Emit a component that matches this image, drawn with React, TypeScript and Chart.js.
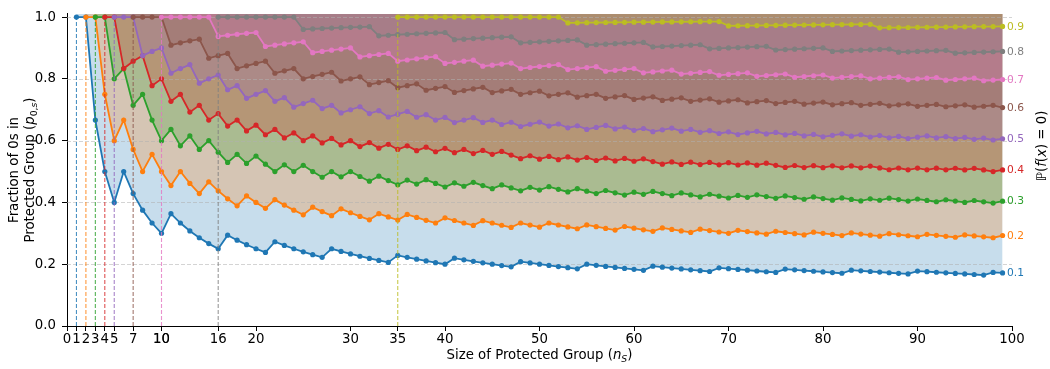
import { useEffect, useRef } from "react";
import { Chart, registerables } from "chart.js";

Chart.register(...registerables);

// P(f(x) = 0) levels, one curve per level
const levels = ["0.1", "0.2", "0.3", "0.4", "0.5", "0.6", "0.7", "0.8", "0.9"];
const levelColors = ["#1f77b4", "#ff7f0e", "#2ca02c", "#d62728", "#9467bd", "#8c564b", "#e377c2", "#7f7f7f", "#bcbd22"];

// smallest protected-group size shown for each level (also marked by a dashed line)
const firstSize = [1, 2, 3, 4, 5, 7, 10, 16, 35];

// number of 0s required in the protected group, for sizes firstSize..99
const zeros01 = [
  1, 2, 2, 2, 2, 3, 3, 3, 3, 3,
  4, 4, 4, 4, 4, 4, 5, 5, 5, 5,
  5, 6, 6, 6, 6, 6, 6, 7, 7, 7,
  7, 7, 7, 7, 8, 8, 8, 8, 8, 8,
  9, 9, 9, 9, 9, 9, 9, 10, 10, 10,
  10, 10, 10, 10, 11, 11, 11, 11, 11, 11,
  11, 12, 12, 12, 12, 12, 12, 12, 13, 13,
  13, 13, 13, 13, 13, 14, 14, 14, 14, 14,
  14, 14, 15, 15, 15, 15, 15, 15, 15, 16,
  16, 16, 16, 16, 16, 16, 16, 17, 17,
];
const zeros02 = [
  2, 3, 3, 3, 4, 4, 4, 5, 5,
  5, 6, 6, 6, 7, 7, 7, 7, 8, 8,
  8, 9, 9, 9, 9, 10, 10, 10, 11, 11,
  11, 11, 12, 12, 12, 13, 13, 13, 13, 14,
  14, 14, 14, 15, 15, 15, 15, 16, 16, 16,
  17, 17, 17, 17, 18, 18, 18, 18, 19, 19,
  19, 19, 20, 20, 20, 20, 21, 21, 21, 21,
  22, 22, 22, 22, 23, 23, 23, 23, 24, 24,
  24, 24, 25, 25, 25, 25, 26, 26, 26, 26,
  27, 27, 27, 27, 28, 28, 28, 28, 29,
];
const zeros03 = [
  3, 4, 4, 5, 5, 6, 6, 6,
  7, 7, 8, 8, 9, 9, 9, 10, 10, 11,
  11, 11, 12, 12, 13, 13, 13, 14, 14, 15,
  15, 15, 16, 16, 16, 17, 17, 18, 18, 18,
  19, 19, 20, 20, 20, 21, 21, 21, 22, 22,
  23, 23, 23, 24, 24, 24, 25, 25, 25, 26,
  26, 27, 27, 27, 28, 28, 28, 29, 29, 29,
  30, 30, 31, 31, 31, 32, 32, 32, 33, 33,
  33, 34, 34, 34, 35, 35, 36, 36, 36, 37,
  37, 37, 38, 38, 38, 39, 39, 39, 40,
];
const zeros04 = [
  4, 5, 5, 6, 7, 7, 8,
  8, 9, 9, 10, 10, 11, 11, 12, 12, 13,
  13, 14, 14, 15, 15, 16, 16, 17, 17, 18,
  18, 19, 19, 20, 20, 21, 21, 22, 22, 23,
  23, 24, 24, 25, 25, 26, 26, 26, 27, 27,
  28, 28, 29, 29, 30, 30, 31, 31, 32, 32,
  33, 33, 33, 34, 34, 35, 35, 36, 36, 37,
  37, 38, 38, 39, 39, 39, 40, 40, 41, 41,
  42, 42, 43, 43, 44, 44, 44, 45, 45, 46,
  46, 47, 47, 48, 48, 49, 49, 49, 50,
];
const zeros05 = [
  5, 6, 7, 7, 8, 9,
  9, 10, 11, 11, 12, 13, 13, 14, 14, 15,
  16, 16, 17, 17, 18, 19, 19, 20, 20, 21,
  22, 22, 23, 23, 24, 25, 25, 26, 26, 27,
  27, 28, 29, 29, 30, 30, 31, 31, 32, 33,
  33, 34, 34, 35, 35, 36, 37, 37, 38, 38,
  39, 39, 40, 41, 41, 42, 42, 43, 43, 44,
  44, 45, 46, 46, 47, 47, 48, 48, 49, 49,
  50, 51, 51, 52, 52, 53, 53, 54, 54, 55,
  56, 56, 57, 57, 58, 58, 59, 59, 60,
];
const zeros06 = [
  7, 8, 9, 10,
  10, 11, 12, 13, 13, 14, 15, 15, 16, 17,
  18, 18, 19, 20, 20, 21, 22, 23, 23, 24,
  25, 25, 26, 27, 27, 28, 29, 29, 30, 31,
  31, 32, 33, 34, 34, 35, 36, 36, 37, 38,
  38, 39, 40, 40, 41, 42, 42, 43, 44, 44,
  45, 46, 46, 47, 48, 48, 49, 50, 50, 51,
  52, 52, 53, 54, 54, 55, 56, 56, 57, 58,
  58, 59, 60, 60, 61, 62, 62, 63, 64, 64,
  65, 66, 66, 67, 68, 68, 69, 70, 70,
];
const zeros07 = [
  10,
  11, 12, 13, 14, 15, 15, 16, 17, 18, 19,
  19, 20, 21, 22, 23, 23, 24, 25, 26, 27,
  27, 28, 29, 30, 30, 31, 32, 33, 34, 34,
  35, 36, 37, 37, 38, 39, 40, 40, 41, 42,
  43, 44, 44, 45, 46, 47, 47, 48, 49, 50,
  50, 51, 52, 53, 53, 54, 55, 56, 56, 57,
  58, 59, 59, 60, 61, 62, 62, 63, 64, 65,
  65, 66, 67, 68, 68, 69, 70, 71, 71, 72,
  73, 74, 74, 75, 76, 77, 77, 78, 79,
];
const zeros08 = [
  16, 17, 18, 19, 20,
  21, 22, 23, 24, 24, 25, 26, 27, 28, 29,
  30, 31, 31, 32, 33, 34, 35, 36, 37, 38,
  38, 39, 40, 41, 42, 43, 44, 44, 45, 46,
  47, 48, 49, 50, 50, 51, 52, 53, 54, 55,
  56, 56, 57, 58, 59, 60, 61, 61, 62, 63,
  64, 65, 66, 67, 67, 68, 69, 70, 71, 72,
  72, 73, 74, 75, 76, 77, 78, 78, 79, 80,
  81, 82, 83, 83, 84, 85, 86, 87, 88,
];
const zeros09 = [
  35, 36, 37, 38, 39, 40,
  41, 42, 43, 44, 45, 46, 47, 48, 49, 50,
  51, 52, 52, 53, 54, 55, 56, 57, 58, 59,
  60, 61, 62, 63, 64, 65, 66, 67, 68, 68,
  69, 70, 71, 72, 73, 74, 75, 76, 77, 78,
  79, 80, 81, 82, 83, 83, 84, 85, 86, 87,
  88, 89, 90, 91, 92, 93, 94, 95, 96,
];
const zerosByLevel = [zeros01, zeros02, zeros03, zeros04, zeros05, zeros06, zeros07, zeros08, zeros09];

const xTickValues = [0, 1, 2, 3, 4, 5, 7, 10, 10, 16, 20, 30, 35, 40, 50, 60, 70, 80, 90, 100];
const yTickValues = [0, 0.2, 0.4, 0.6, 0.8, 1.0];

const FAMILY = "'DejaVu Sans', 'Liberation Sans', sans-serif";

function withAlpha(hex: string, a: number) {
  const v = parseInt(hex.slice(1), 16);
  return `rgba(${(v >> 16) & 255}, ${(v >> 8) & 255}, ${v & 255}, ${a})`;
}

type Run = { t: string; italic?: boolean; sub?: boolean };

function drawRuns(ctx: CanvasRenderingContext2D, runs: Run[], size: number, cx: number, cy: number, angle: number) {
  ctx.save();
  ctx.translate(cx, cy);
  ctx.rotate(angle);
  ctx.textBaseline = "alphabetic";
  ctx.textAlign = "left";
  ctx.fillStyle = "#000";
  const fontFor = (r: Run) => `${r.italic ? "italic " : ""}${r.sub ? size * 0.7 : size}px ${FAMILY}`;
  let total = 0;
  const widths = runs.map((r) => {
    ctx.font = fontFor(r);
    const w = ctx.measureText(r.t).width;
    total += w;
    return w;
  });
  let x = -total / 2;
  const base = size * 0.36;
  runs.forEach((r, i) => {
    ctx.font = fontFor(r);
    ctx.fillText(r.t, x, base + (r.sub ? size * 0.22 : 0));
    x += widths[i];
  });
  ctx.restore();
}

const decorations = {
  id: "decorations",
  beforeDatasetsDraw(chart: any) {
    const { ctx, chartArea, scales } = chart;
    ctx.save();
    ctx.strokeStyle = "rgba(176, 176, 176, 0.55)";
    ctx.lineWidth = 1;
    ctx.setLineDash([4, 2]);
    yTickValues.forEach((v) => {
      if (v === 0) return;
      const y = Math.round(scales.y.getPixelForValue(v)) + 0.5;
      ctx.beginPath();
      ctx.moveTo(chartArea.left, y);
      ctx.lineTo(chartArea.right, y);
      ctx.stroke();
    });
    ctx.restore();
  },
  afterDraw(chart: any) {
    const { ctx, chartArea, scales } = chart;
    const size = 13.3;
    const midX = (chartArea.left + chartArea.right) / 2;
    const midY = (chartArea.top + chartArea.bottom) / 2;

    drawRuns(ctx, [{ t: "Size of Protected Group (" }, { t: "n", italic: true }, { t: "S", italic: true, sub: true }, { t: ")" }], size, midX, 354.5, 0);
    drawRuns(ctx, [{ t: "Fraction of 0s in" }], size, 13, midY, -Math.PI / 2);
    drawRuns(
      ctx,
      [{ t: "Protected Group (" }, { t: "p", italic: true }, { t: "0,", sub: true }, { t: "s", italic: true, sub: true }, { t: ")" }],
      size,
      29,
      midY,
      -Math.PI / 2
    );
    drawRuns(ctx, [{ t: "\u2119(" }, { t: "f", italic: true }, { t: "(" }, { t: "x", italic: true }, { t: ") = 0)" }], size, 1041, 146, -Math.PI / 2);

    ctx.save();
    ctx.font = `10.7px ${FAMILY}`;
    ctx.textBaseline = "middle";
    ctx.textAlign = "left";
    zerosByLevel.forEach((zs, i) => {
      const n = firstSize[i] + zs.length - 1;
      const v = zs[zs.length - 1] / n;
      ctx.fillStyle = levelColors[i];
      ctx.fillText(levels[i], scales.x.getPixelForValue(n) + 4.5, scales.y.getPixelForValue(v) + 0.5);
    });
    ctx.restore();
  },
};

function buildConfig(): any {
  const markerLines = firstSize.map((s, i) => ({
    data: [
      { x: s, y: 0 },
      { x: s, y: 1 },
    ],
    borderColor: withAlpha(levelColors[i], 0.8),
    borderWidth: 1.1,
    borderDash: [4, 2],
    pointRadius: 0,
    fill: false,
    tension: 0,
  }));

  const curves = zerosByLevel
    .map((zs, i) => ({
      label: levels[i],
      data: zs.map((k, j) => {
        const n = firstSize[i] + j;
        return { x: n, y: k / n };
      }),
      borderColor: levelColors[i],
      backgroundColor: withAlpha(levelColors[i], 0.25),
      fill: "end",
      borderWidth: 1.8,
      pointRadius: 2.6,
      pointBackgroundColor: levelColors[i],
      pointBorderColor: levelColors[i],
      pointBorderWidth: 0,
      tension: 0,
    }))
    .reverse();

  const tickFont = { family: FAMILY, size: 13.3 };

  return {
    type: "line",
    data: { datasets: [...markerLines, ...curves] },
    options: {
      responsive: false,
      animation: false,
      devicePixelRatio: 1,
      layout: { padding: { top: 7, right: 38, bottom: 0, left: 0 } },
      plugins: {
        legend: { display: false },
        tooltip: { enabled: false },
        filler: { drawTime: "beforeDatasetsDraw" },
      },
      scales: {
        x: {
          type: "linear",
          min: 0,
          max: 100,
          afterBuildTicks: (s: any) => {
            s.ticks = xTickValues.map((v) => ({ value: v }));
          },
          afterFit: (s: any) => {
            s.height = 43;
          },
          ticks: {
            autoSkip: false,
            maxRotation: 0,
            minRotation: 0,
            color: "#000",
            font: tickFont,
            padding: 1,
            callback: (v: any) => String(v),
          },
          grid: { drawOnChartArea: false, drawTicks: true, tickLength: 5, color: "#000", lineWidth: 1 },
          border: { display: true, color: "#000", width: 1 },
        },
        y: {
          type: "linear",
          min: 0,
          max: 1.01,
          afterBuildTicks: (s: any) => {
            s.ticks = yTickValues.map((v) => ({ value: v }));
          },
          afterFit: (s: any) => {
            s.width = 67;
          },
          ticks: {
            color: "#000",
            font: tickFont,
            padding: 6,
            callback: (v: any) => Number(v).toFixed(1),
          },
          grid: { drawOnChartArea: false, drawTicks: true, tickLength: 5, color: "#000", lineWidth: 1 },
          border: { display: true, color: "#000", width: 1 },
        },
      },
    },
    plugins: [decorations],
  };
}

export default function App() {
  const canvasRef = useRef<HTMLCanvasElement>(null);

  useEffect(() => {
    const canvas = canvasRef.current;
    if (!canvas) return;
    const chart = new Chart(canvas, buildConfig());
    return () => chart.destroy();
  }, []);

  return (
    <div style={{ position: "absolute", left: 0, top: 0, width: 1050, height: 369, background: "#fff" }}>
      <canvas ref={canvasRef} width={1050} height={369} style={{ display: "block", width: 1050, height: 369 }} />
    </div>
  );
}
